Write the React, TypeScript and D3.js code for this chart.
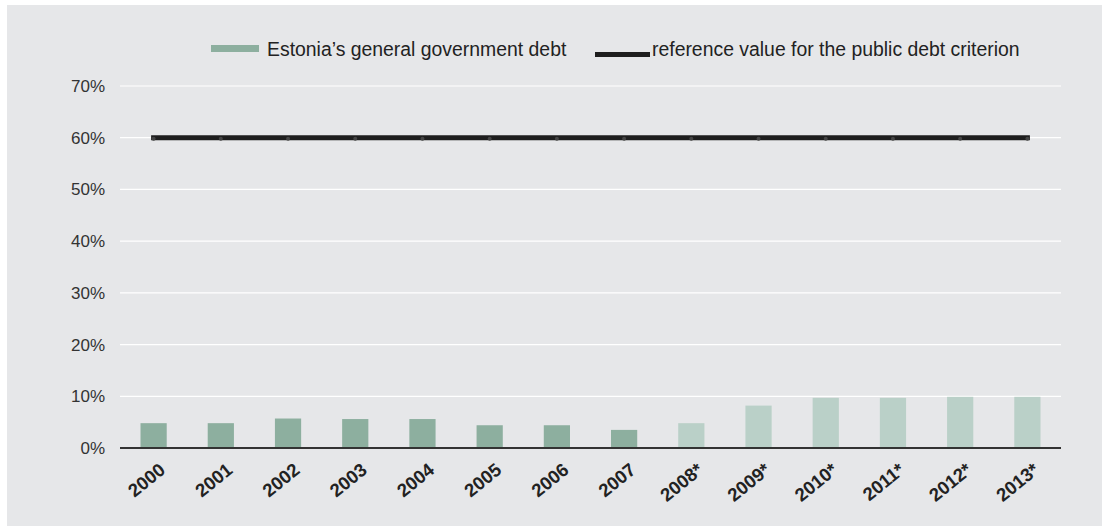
import React from "react";
import * as d3 from "d3";

const years = ["2000","2001","2002","2003","2004","2005","2006","2007","2008*","2009*","2010*","2011*","2012*","2013*"];
const debt = [4.8, 4.8, 5.7, 5.6, 5.6, 4.4, 4.4, 3.5, 4.8, 8.2, 9.7, 9.7, 9.9, 9.9];
const forecast = [false,false,false,false,false,false,false,false,true,true,true,true,true,true];
const referenceValue = years.map(() => 60);
const yTicks = [0, 10, 20, 30, 40, 50, 60, 70];
const legendLabels = ["Estonia’s general government debt", "reference value for the public debt criterion"];

const W = 1102, H = 526;
const M = { left: 120, right: 1061, top: 86, bottom: 448 };
const FONT = "'Liberation Sans', Arial, Helvetica, sans-serif";

export default function App() {
  const x = d3.scaleBand<string>().domain(years).range([M.left, M.right]).paddingInner(0.61).paddingOuter(0.305);
  const y = d3.scaleLinear().domain([0, 70]).range([M.bottom, M.top]);
  const cx = (yr: string) => (x(yr) as number) + x.bandwidth() / 2;
  const line = d3.line<number>().x((_, i) => cx(years[i])).y((d) => y(d));

  return (
    <svg width={W} height={H} style={{ position: "absolute", left: 0, top: 0, fontFamily: FONT }}>
      <rect x={7} y={5} width={W - 7} height={H - 5} fill="#e6e7e9" />
      {yTicks.map((t) => (
        <g key={t}>
          {t > 0 && <line x1={M.left} x2={M.right} y1={y(t)} y2={y(t)} stroke="#ffffff" strokeWidth={1.2} />}
          <text x={105} y={y(t) + 6} textAnchor="end" fontSize={17} fill="#333">{t}%</text>
        </g>
      ))}
      {years.map((yr, i) => (
        <rect key={yr} x={x(yr)} y={y(debt[i])} width={x.bandwidth()} height={y(0) - y(debt[i])}
          fill={forecast[i] ? "#bad0c8" : "#8daf9f"} />
      ))}
      <line x1={M.left} x2={M.right} y1={y(0)} y2={y(0)} stroke="#333" strokeWidth={2} />
      <path d={line(referenceValue) || ""} fill="none" stroke="#1e1e1e" strokeWidth={5} strokeLinecap="square" />
      {referenceValue.map((v, i) => (
        <circle key={i} cx={cx(years[i])} cy={y(v) + 1} r={2} fill="#444" />
      ))}
      {years.map((yr) => (
        <text key={yr} transform={`translate(${cx(yr) + 13},${472}) rotate(-39)`} textAnchor="end"
          fontSize={18.5} fontWeight="bold" fill="#222">{yr}</text>
      ))}
      <rect x={211} y={45} width={48} height={7} fill="#8daf9f" />
      <text x={267} y={56} fontSize={19.4} fill="#222">{legendLabels[0]}</text>
      <rect x={595} y={52} width={55} height={5} fill="#1e1e1e" />
      <text x={652} y={56} fontSize={19.4} fill="#222">{legendLabels[1]}</text>
    </svg>
  );
}
